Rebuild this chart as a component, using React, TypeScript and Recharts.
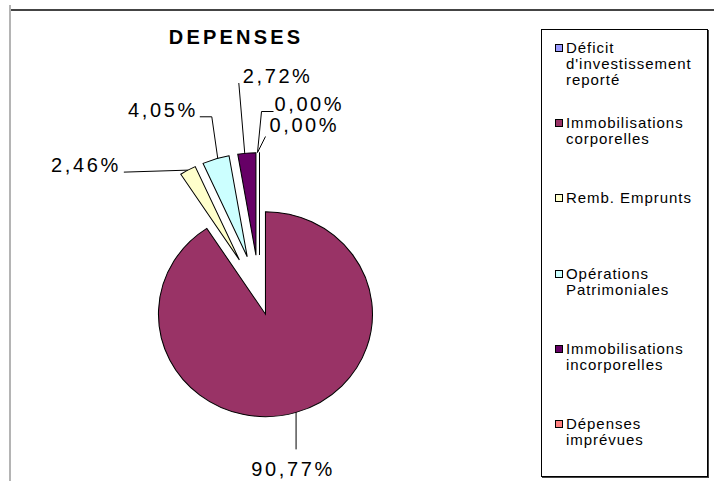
import { PieChart, Pie, Cell, Legend, Sector } from 'recharts';

const TITLE = 'DEPENSES';
const CATEGORIES = [
  "Déficit d'investissement reporté",
  'Immobilisations corporelles',
  'Remb. Emprunts',
  'Opérations Patrimoniales',
  'Immobilisations incorporelles',
  'Dépenses imprévues',
];
const VALUES = [0, 90.77, 2.46, 4.05, 2.72, 0];
const COLORS = ['#9999FF', '#993366', '#FFFFCC', '#CCFFFF', '#660066', '#FF8080'];

const data = CATEGORIES.map((name, i) => ({ name, value: VALUES[i] }));

// excel-ish look: pie is a bit wider than tall, slices pulled out
const SX = 1.044;
const EXPLODE = [40, 20, 40, 40, 40, 40];
const RAD = Math.PI / 180;
const FONT = '"Liberation Sans", Arial, sans-serif';

// leader line points and text position, relative to the slice's outer point
const LABEL_LAYOUT: { path: number[][]; text: number[]; anchor: 'start' | 'middle' | 'end' }[] = [
  { path: [[-2, 0], [2, -41], [14, -41]], text: [15, -42], anchor: 'start' },
  { path: [[0, 0], [0, 37]], text: [-3, 64], anchor: 'middle' },
  { path: [[0, 0], [-64, 2]], text: [-67, 2], anchor: 'end' },
  { path: [[2, 0], [-4, -42], [-16, -42]], text: [-18, -42], anchor: 'end' },
  { path: [[-2, 1], [-8, -70]], text: [-4, -70], anchor: 'start' },
  { path: [[-2, 0], [6, -16]], text: [10, -21], anchor: 'start' },
];

function idxOf(p: any) {
  const n = p?.payload?.name ?? p?.name;
  return CATEGORIES.indexOf(n);
}

function explodedCenter(cx: number, cy: number, mid: number, d: number) {
  return [cx + d * Math.cos(-mid * RAD), cy + d * Math.sin(-mid * RAD)];
}

function Slice(props: any) {
  const { cx, cy, outerRadius, startAngle, endAngle, midAngle, fill } = props;
  const i = idxOf(props);
  const [ex, ey] = explodedCenter(cx, cy, midAngle, EXPLODE[i] ?? 40);
  const tf = `translate(${cx} 0) scale(${SX} 1) translate(${-cx} 0)`;
  if (startAngle === endAngle) {
    const ox = ex + outerRadius * Math.cos(-midAngle * RAD);
    const oy = ey + outerRadius * Math.sin(-midAngle * RAD);
    return (
      <g transform={tf}>
        <line x1={ex} y1={ey} x2={ox} y2={oy} stroke="#000" strokeWidth={1} />
      </g>
    );
  }
  return (
    <g transform={tf}>
      <Sector
        cx={ex}
        cy={ey}
        innerRadius={0}
        outerRadius={outerRadius}
        startAngle={startAngle}
        endAngle={endAngle}
        fill={fill}
        stroke="#000"
        strokeWidth={1}
      />
    </g>
  );
}

function renderLabel(props: any) {
  const { cx, cy, outerRadius, midAngle, value } = props;
  let i = idxOf(props);
  if (i < 0) i = props.index;
  const [ex, ey] = explodedCenter(cx, cy, midAngle, EXPLODE[i] ?? 40);
  const ux = ex + outerRadius * Math.cos(-midAngle * RAD);
  const oy = ey + outerRadius * Math.sin(-midAngle * RAD);
  const ox = cx + (ux - cx) * SX;
  const lay = LABEL_LAYOUT[i];
  const pts = lay.path.map(([dx, dy]) => `${ox + dx},${oy + dy}`).join(' ');
  const txt = `${Number(value).toFixed(2).replace('.', ',')}%`;
  return (
    <g key={`lbl-${i}`}>
      <polyline points={pts} fill="none" stroke="#000" strokeWidth={1} />
      <text
        x={ox + lay.text[0]}
        y={oy + lay.text[1]}
        textAnchor={lay.anchor}
        fontFamily={FONT}
        fontSize={20}
        letterSpacing={2.6}
        fill="#000"
      >
        {txt}
      </text>
    </g>
  );
}

function LegendBox() {
  return (
    <div
      style={{
        position: 'relative',
        width: 167,
        height: 448,
        boxSizing: 'border-box',
        border: '1px solid #000',
        boxShadow: '1px 1px 0 #444',
        background: '#fff',
        fontFamily: FONT,
        fontSize: 15,
        letterSpacing: 0.95,
        color: '#000',
      }}
    >
      {CATEGORIES.map((name, i) => (
        <div
          key={name}
          style={{ position: 'absolute', left: 13, top: 10 + i * 75.2, display: 'flex', alignItems: 'flex-start' }}
        >
          <span
            style={{
              width: 8,
              height: 8,
              marginTop: 4,
              boxSizing: 'border-box',
              border: '1px solid #000',
              background: COLORS[i],
              flex: 'none',
            }}
          />
          <span style={{ marginLeft: 3, width: 134, lineHeight: '16px' }}>{name}</span>
        </div>
      ))}
    </div>
  );
}

export default function App() {
  return (
    <div style={{ position: 'absolute', left: 0, top: 0, width: 714, height: 481, background: '#fff', overflow: 'hidden' }}>
      <div style={{ position: 'absolute', left: 10, top: 9, width: 704, height: 2, background: '#444' }} />
      <div style={{ position: 'absolute', left: 9, top: 5, width: 2, height: 476, background: '#b4b4b4' }} />
      <div
        style={{
          position: 'absolute',
          left: 136,
          top: 27,
          width: 200,
          textAlign: 'center',
          fontFamily: FONT,
          fontWeight: 'bold',
          fontSize: 20,
          lineHeight: '20px',
          letterSpacing: 3.2,
        }}
      >
        {TITLE}
      </div>
      <PieChart
        width={714}
        height={481}
        margin={{ top: 0, right: 0, bottom: 0, left: 0 }}
        style={{ position: 'absolute', left: 0, top: 0 }}
      >
        <Pie
          data={data}
          dataKey="value"
          nameKey="name"
          cx={259.5}
          cy={295}
          innerRadius={0}
          outerRadius={102.5}
          startAngle={90}
          endAngle={-270}
          stroke="#000"
          shape={Slice}
          label={renderLabel}
          labelLine={false}
          isAnimationActive={false}
        >
          {data.map((d, i) => (
            <Cell key={d.name} fill={COLORS[i]} />
          ))}
        </Pie>
        <Legend
          layout="vertical"
          content={() => <LegendBox />}
          wrapperStyle={{ position: 'absolute', left: 541, top: 29, width: 167, height: 448, margin: 0 }}
        />
      </PieChart>
    </div>
  );
}
